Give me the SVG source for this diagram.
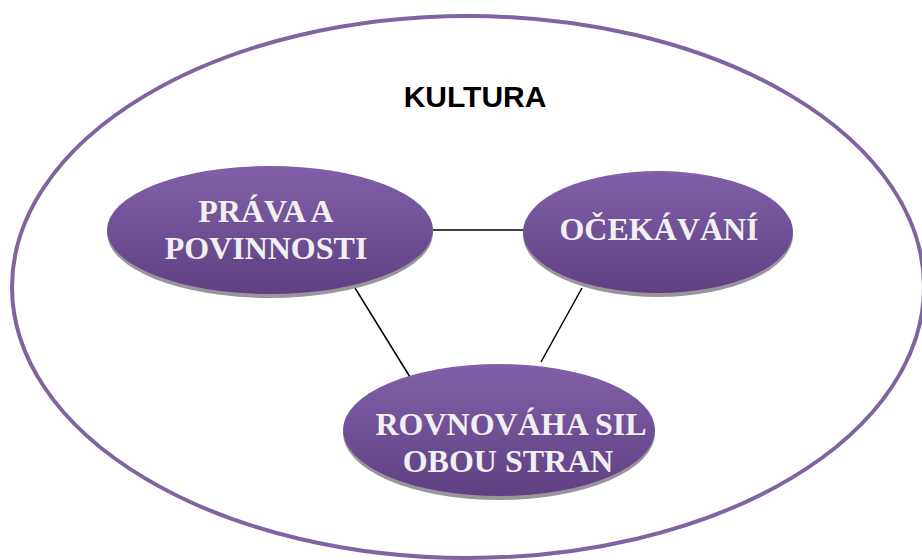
<svg xmlns="http://www.w3.org/2000/svg" width="922" height="560" viewBox="0 0 922 560">
<defs>
<linearGradient id="g" x1="0" y1="0" x2="0" y2="1">
<stop offset="0" stop-color="#8060a8"/>
<stop offset="1" stop-color="#5f4083"/>
</linearGradient>
<style>
.node{fill:url(#g);}
.sh{fill:#9a949c;}
.lbl{font-family:"Liberation Serif","Times New Roman",serif;font-weight:bold;font-size:32px;fill:#f0f0f0;text-anchor:middle;}
.conn line{stroke:#000;stroke-width:1.5;}
</style>
</defs>
<rect width="922" height="560" fill="#fff"/>
<g id="kultura">
<ellipse cx="468" cy="287" rx="456" ry="271" fill="none" stroke="#8064a2" stroke-width="4"/>
<text x="475" y="107" font-family="'Liberation Sans',Arial,sans-serif" font-weight="bold" font-size="30" text-anchor="middle" fill="#000">KULTURA</text>
</g>
<g class="conn" id="connectors">
<line x1="430" y1="230" x2="524" y2="230"/>
<line x1="355" y1="288" x2="410" y2="377"/>
<line x1="582" y1="288" x2="541" y2="362"/>
</g>
<g id="prava">
<ellipse class="sh" cx="270" cy="233" rx="163" ry="65"/>
<ellipse class="node" cx="270" cy="230" rx="163" ry="64"/>
<text class="lbl" x="266" y="222">PRÁVA A</text>
<text class="lbl" x="266" y="259">POVINNOSTI</text>
</g>
<g id="ocekavani">
<ellipse class="sh" cx="658" cy="235" rx="135" ry="62"/>
<ellipse class="node" cx="658" cy="232" rx="135" ry="61"/>
<text class="lbl" x="659" y="240">OČEKÁVÁNÍ</text>
</g>
<g id="rovnovaha">
<ellipse class="sh" cx="499" cy="433" rx="156" ry="67"/>
<ellipse class="node" cx="499" cy="430" rx="156" ry="66"/>
<text class="lbl" x="511" y="435" font-size="33">ROVNOVÁHA SIL</text>
<text class="lbl" x="508" y="472" font-size="33">OBOU STRAN</text>
</g>
</svg>
